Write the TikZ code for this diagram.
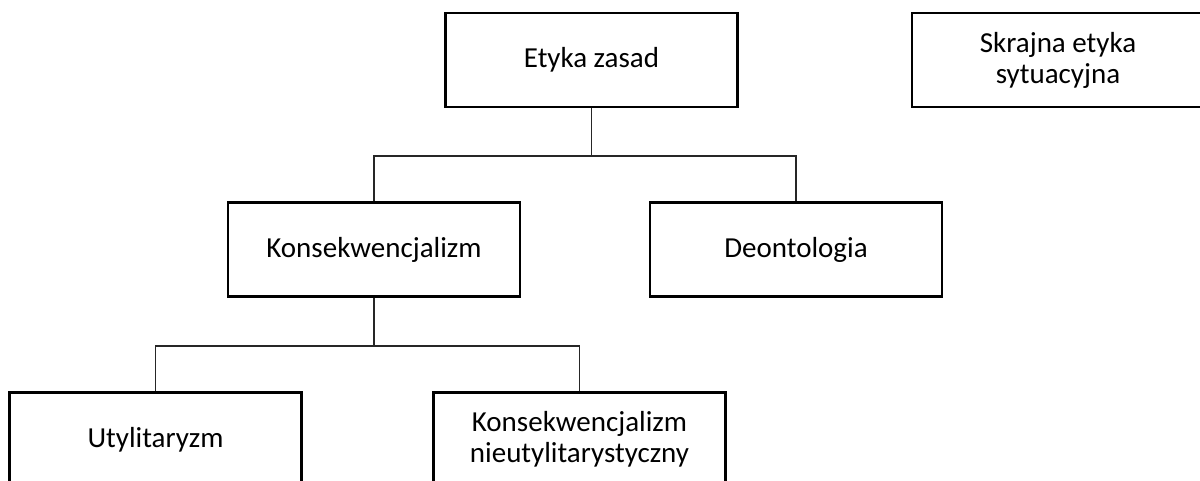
\documentclass[tikz,border=0pt]{standalone}
\usepackage{fontspec}
\setmainfont{Carlito}
\tikzset{
  box/.style={draw=black, line width=2.2pt, minimum width=292pt, minimum height=94pt,
    inner sep=0pt, align=center, font=\fontsize{29pt}{31pt}\selectfont},
  link/.style={draw=black!85, line width=1.2pt}
}
\begin{document}
\begin{tikzpicture}[x=1pt, y=-1pt]
  \useasboundingbox (0,0) rectangle (1200,481);
  \clip (0,0) rectangle (1200,481);
  % top level
  \node[box] (etyka) at (591.5,60) {Etyka zasad};
  \node[box] (skrajna) at (1058,60) {Skrajna etyka\\sytuacyjna};
  % second level
  \node[box] (kons) at (374,249.5) {Konsekwencjalizm};
  \node[box] (deon) at (796,249.5) {Deontologia};
  % third level
  \node[box] (utyl) at (155.5,439.5) {Utylitaryzm};
  \node[box] (knu) at (579.5,439.5) {Konsekwencjalizm\\nieutylitarystyczny};
  % junction heights
  \coordinate (j1) at (591.5,156);
  \coordinate (j2) at (374,346);
  % connectors
  \draw[link] (etyka.south) -- (etyka.south |- j1);
  \draw[link] (kons.north) |- (deon.north |- j1) -- (deon.north);
  \draw[link] (kons.south) -- (kons.south |- j2);
  \draw[link] (utyl.north) |- (knu.north |- j2) -- (knu.north);
\end{tikzpicture}
\end{document}
